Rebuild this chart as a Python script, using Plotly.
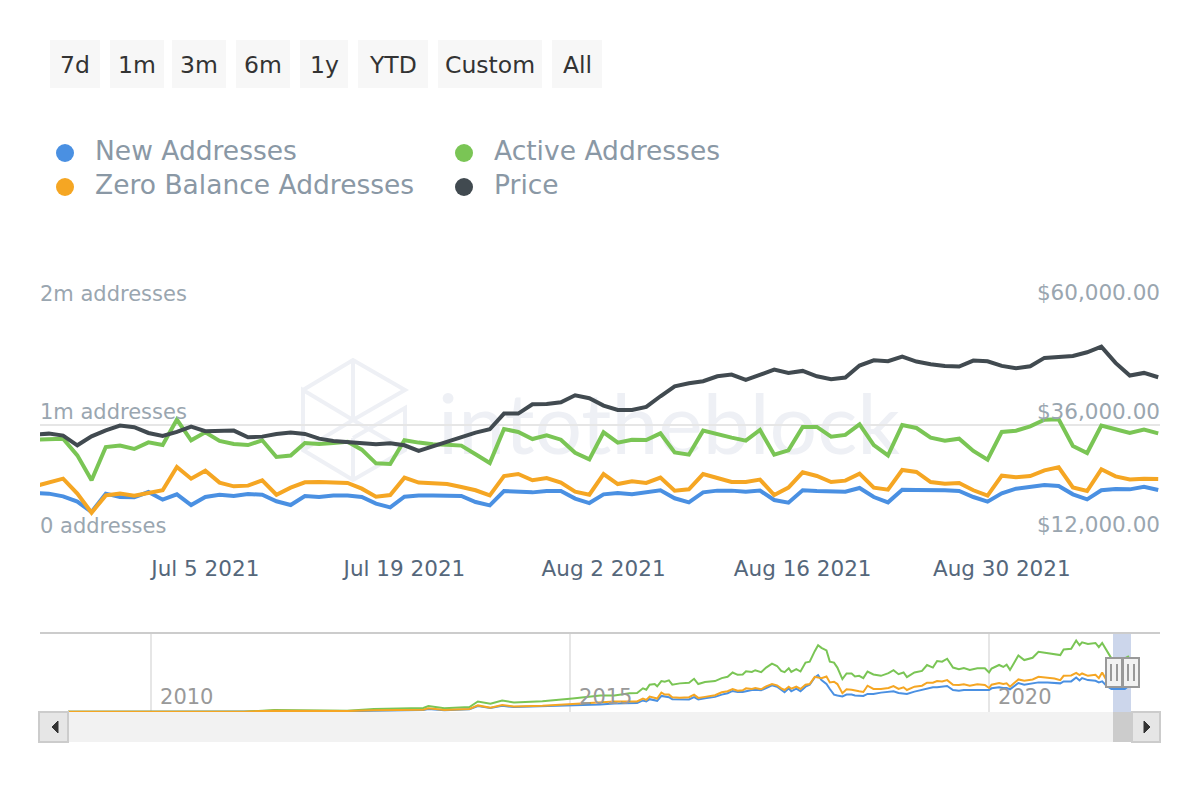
import pandas as pd
import plotly.graph_objects as go

# daily values, zoomed window (thousands of addresses / USD)
dates = pd.date_range("2021-06-23", "2021-09-10").strftime("%Y-%m-%d").tolist()
new_addresses = [
    397, 391, 368, 322, 233, 391, 362, 359, 405, 339, 385, 293, 362, 382, 371, 388, 382, 325, 293, 371,
    362, 374, 374, 362, 305, 273, 365, 374, 374,
    374, 371, 319, 290, 414, 405, 402, 414, 414, 348, 310, 385, 397, 385, 402, 420, 351, 316, 402, 417,
    417, 408, 417, 336, 313, 420, 414,
    408, 408, 440, 362, 316, 425, 422, 425, 420, 414, 362, 322, 394, 434, 448, 466, 457, 385, 342, 420,
    431, 428, 451, 422,
]
active_addresses = [
    856, 862, 865, 721, 506, 793, 805, 776, 833, 810, 1029, 851, 920, 845, 819, 810, 851, 707, 719, 828,
    819, 828, 839, 770, 652, 647, 851, 831, 816,
    813, 805, 730, 655, 948, 923, 862, 894, 856, 744, 687, 920, 831, 856, 854, 911, 747, 727, 934, 900,
    874, 848, 940, 727, 764, 966, 966,
    882, 897, 989, 810, 721, 983, 957, 874, 848, 865, 759, 684, 923, 934, 971, 1029, 1032, 802, 741, 977,
    946, 914, 943, 911,
]
zero_balance = [
    454, 483, 520, 391, 227, 376, 391, 374, 399, 420, 621, 520, 589, 486, 454, 460, 506, 382, 443, 489,
    491, 486, 483, 434, 365, 379, 529, 486, 477,
    474, 448, 420, 376, 543, 560, 506, 526, 486, 408, 382, 560, 474, 497, 483, 529, 417, 428, 560, 526,
    491, 491, 512, 379, 443, 575, 543,
    491, 503, 563, 443, 425, 595, 578, 491, 477, 483, 420, 374, 546, 532, 543, 592, 618, 445, 414, 601,
    540, 514, 520, 517,
]
price = [
    33600, 33800, 33390, 31390, 33250, 34490, 35460, 35120, 33940, 33320, 34150, 35250, 34290, 34360, 34430,
    33050, 33180, 33740, 34010, 33740, 32770, 32290, 32080, 31670, 31600, 31800, 31390, 30220, 31180,
    32150, 32910, 34010, 34700, 37940, 37940, 39880, 39950, 40290, 41740, 41120, 39600, 38700, 38700, 39320,
    41530, 43600, 44220, 44640, 45670, 46020, 44910, 46090, 47050, 46360, 46780, 45670,
    45050, 45400, 47880, 48980, 48780, 49740, 48710, 48160, 47810, 47670, 48920, 48780, 47810, 47330, 47740,
    49470, 49610, 49880, 50640, 51810, 48430, 45810, 46360, 45470,
]

# navigator, whole history
nav_years = [
    2009.01, 2011.11, 2011.47, 2012.34, 2012.66, 2013.25, 2013.31, 2013.50, 2013.80, 2013.90, 2014.05, 2014.19,
    2014.33, 2014.67, 2015.03,
    2015.36, 2015.53, 2015.71, 2015.80, 2015.87, 2015.91, 2015.95, 2016.01, 2016.04, 2016.09, 2016.13, 2016.18,
    2016.22, 2016.31, 2016.42, 2016.48, 2016.53, 2016.61, 2016.73, 2016.81, 2016.88, 2016.94, 2017.00, 2017.06,
    2017.10, 2017.17, 2017.21, 2017.28, 2017.34, 2017.41, 2017.47, 2017.52, 2017.56, 2017.61, 2017.64, 2017.70,
    2017.75, 2017.81, 2017.86, 2017.92, 2017.96, 2018.00, 2018.06, 2018.10, 2018.15, 2018.19, 2018.25, 2018.30,
    2018.36, 2018.40, 2018.45, 2018.50, 2018.55, 2018.62, 2018.71, 2018.80, 2018.86, 2018.92, 2018.98, 2019.02,
    2019.11, 2019.20, 2019.26, 2019.33, 2019.38, 2019.44, 2019.50, 2019.57, 2019.64, 2019.70, 2019.77, 2019.86,
    2019.95, 2020.00, 2020.03, 2020.12, 2020.17, 2020.21, 2020.25, 2020.30, 2020.35, 2020.42, 2020.52, 2020.59,
    2020.70, 2020.78, 2020.85, 2020.89, 2020.98, 2021.04, 2021.08, 2021.11, 2021.18, 2021.27, 2021.31, 2021.35,
    2021.40, 2021.46, 2021.62, 2021.67,
]
nav_new = [
    5, 5, 16, 11, 21, 32, 48, 27, 43, 96, 64, 101, 80, 91, 112,
    123, 139, 149, 144, 187, 171, 208, 197, 181, 261, 251, 240, 208, 203, 203, 240, 203, 224, 245, 282, 304,
    341, 325, 325, 341, 357, 362, 352, 389, 432, 410, 357, 320, 384, 336, 378, 336, 410, 442, 560, 597, 517,
    453, 373, 282, 267, 251, 282, 282, 267, 261, 261, 293, 293, 314, 320, 336, 309, 304, 293, 330, 357, 378,
    400, 400, 416, 421, 357, 346, 357, 357, 362, 368, 357, 384, 400, 389, 389, 368, 416, 469, 442, 469, 480,
    480, 474, 464, 496, 496, 560, 512, 549, 517, 506, 480, 496, 426, 373, 373, 426,
]
nav_active = [
    5, 5, 32, 21, 48, 64, 96, 59, 80, 171, 133, 187, 155, 176, 219,
    267, 267, 304, 309, 384, 362, 442, 453, 416, 501, 490, 512, 442, 464, 474, 538, 453, 485, 501, 549, 570,
    640, 602, 608, 661, 650, 677, 645, 720, 784, 746, 666, 645, 709, 650, 693, 656, 800, 816, 986, 1082, 1039,
    997, 816, 800, 720, 533, 624, 624, 576, 586, 549, 656, 608, 586, 629, 677, 613, 640, 565, 640, 666, 762,
    720, 826, 816, 863, 720, 693, 714, 682, 709, 709, 640, 704, 762, 730, 768, 682, 800, 917, 842, 879, 975,
    954, 943, 922, 1013, 1023, 1157, 1082, 1130, 1103, 1119, 1050, 1119, 997, 869, 869, 906,
]
nav_zero = [
    5, 5, 21, 16, 27, 37, 59, 32, 48, 107, 69, 112, 91, 101, 128,
    160, 171, 171, 171, 219, 197, 251, 235, 219, 314, 282, 282, 240, 229, 240, 282, 229, 245, 272, 320, 336,
    373, 346, 352, 384, 373, 389, 368, 416, 453, 432, 384, 357, 410, 378, 410, 373, 442, 453, 570, 560, 549,
    576, 480, 490, 453, 304, 368, 362, 346, 336, 325, 426, 373, 373, 389, 421, 373, 400, 357, 410, 426, 474,
    474, 501, 496, 517, 442, 437, 448, 426, 448, 437, 389, 442, 469, 453, 464, 410, 469, 528, 506, 528, 570,
    554, 544, 517, 586, 592, 634, 597, 624, 586, 602, 549, 640, 517, 506, 442, 560,
]
assert len(nav_years) == len(nav_new) == len(nav_active) == len(nav_zero)
assert len(dates) == len(new_addresses) == len(active_addresses) == len(zero_balance) == len(price)

x_tick_dates = ["2021-07-05", "2021-07-19", "2021-08-02", "2021-08-16", "2021-08-30"]
x_tick_text = ["Jul 5 2021", "Jul 19 2021", "Aug 2 2021", "Aug 16 2021", "Aug 30 2021"]
left_ticks = [0, 980, 2000]
left_tick_text = ["0 addresses", "1m addresses", "2m addresses"]
right_ticks = [12000, 35520, 60000]
right_tick_text = ["$12,000.00", "$36,000.00", "$60,000.00"]
nav_ticks = [2010, 2015, 2020]

BLUE = "#4a90e2"
GREEN = "#7ac555"
ORANGE = "#f5a623"
DARK = "#414a50"
FONT = "DejaVu Sans"
MARK = "#eef0f5"


def px(x):
    return x / 1200


def py(y):
    return 1 - y / 800


def box(x0, y0, x1, y1, fill, line=None, layer="above", width=2):
    return dict(type="rect", xref="paper", yref="paper", x0=px(x0), x1=px(x1), y0=py(y0), y1=py(y1),
                fillcolor=fill, line=dict(color=line or fill, width=width if line else 0), layer=layer)


def poly(points, line=None, fill=None, layer="above", width=1):
    path = "M " + " L ".join(f"{px(a)},{py(b)}" for a, b in points)
    if fill:
        path += " Z"
    return dict(type="path", xref="paper", yref="paper", path=path, fillcolor=fill,
                line=dict(color=line or fill, width=width), layer=layer)


fig = go.Figure()

# main chart
for name, values, color in [
    ("New Addresses", new_addresses, BLUE),
    ("Active Addresses", active_addresses, GREEN),
    ("Zero Balance Addresses", zero_balance, ORANGE),
]:
    fig.add_trace(go.Scatter(x=dates, y=values, name=name, mode="lines", line=dict(color=color, width=4),
                             xaxis="x", yaxis="y"))
fig.add_trace(go.Scatter(x=dates, y=price, name="Price", mode="lines", line=dict(color=DARK, width=4),
                         xaxis="x", yaxis="y2"))

# navigator
for name, values, color in [
    ("New Addresses", nav_new, BLUE),
    ("Active Addresses", nav_active, GREEN),
    ("Zero Balance Addresses", nav_zero, ORANGE),
]:
    fig.add_trace(go.Scatter(x=nav_years, y=values, name=name, mode="lines", line=dict(color=color, width=2),
                             xaxis="x2", yaxis="y3", showlegend=False))

shapes = []
annotations = []

# range buttons
buttons = [("7d", 50, 100), ("1m", 110, 164), ("3m", 172, 226), ("6m", 236, 290), ("1y", 300, 348),
           ("YTD", 358, 428), ("Custom", 438, 542), ("All", 552, 602)]
for label, x0, x1 in buttons:
    shapes.append(dict(box(x0, 40, x1, 88, "#f7f7f7"), layer="below"))
    annotations.append(dict(text=label, x=px((x0 + x1) / 2), y=py(65), xref="paper", yref="paper", showarrow=False,
                            xanchor="center", yanchor="middle",
                            font=dict(family=FONT, size=23.5, color="#333333")))

# legend
legend_items = [("New Addresses", BLUE, 65, 93, 151), ("Zero Balance Addresses", ORANGE, 65, 93, 185),
                ("Active Addresses", GREEN, 464, 492, 151), ("Price", DARK, 464, 492, 185)]
for label, color, cx, tx, cy in legend_items:
    shapes.append(dict(type="circle", xref="paper", yref="paper", x0=px(cx - 9), x1=px(cx + 9),
                       y0=py(cy + 11), y1=py(cy - 7), fillcolor=color, line=dict(width=0)))
    annotations.append(dict(text=label, x=px(tx), y=py(cy), xref="paper", yref="paper", xanchor="left",
                            yanchor="middle", showarrow=False, font=dict(family=FONT, size=26.5, color="#8a98a5")))

# watermark
shapes.append(dict(type="rect", xref="paper", yref="paper", x0=px(429), x1=px(909), y0=py(475), y1=py(365),
                   line=dict(width=0), layer="below",
                   label=dict(text="intotheblock", textposition="middle center",
                              font=dict(family="Lato", size=84, color=MARK))))
for seg in [[(303, 390), (353, 360), (405, 390), (353, 420), (303, 390), (303, 450), (353, 480), (405, 450), (405, 408), (353, 438)],
            [(353, 360), (353, 420)], [(303, 450), (353, 420), (405, 450)], [(353, 438), (353, 480)]]:
    shapes.append(poly(seg, line=MARK, layer="below", width=4))

# navigator furniture
shapes.append(box(40, 632, 1160, 634, "#cccccc", layer="below"))
shapes.append(box(1113, 634, 1131, 712, "#ccd6eb", layer="below"))
shapes.append(box(40, 712, 1160, 742, "#f2f2f2"))
shapes.append(box(1113, 712, 1131, 742, "#cccccc"))
shapes.append(box(39, 712, 68, 742, "#e6e6e6", line="#cccccc"))
shapes.append(box(1132, 712, 1160, 742, "#e6e6e6", line="#cccccc"))
shapes.append(poly([(58, 721), (52, 727), (58, 733)], fill="#333333"))
shapes.append(poly([(1144, 721), (1150, 727), (1144, 733)], fill="#333333"))
for x0, x1 in [(1106, 1122), (1123, 1139)]:
    shapes.append(box(x0, 658, x1, 687, "#f2f2f2", line="#999999"))
    mid = (x0 + x1) / 2
    for dx in (-3, 3):
        shapes.append(poly([(mid + dx, 664), (mid + dx, 681)], line="#999999", width=2))

fig.update_layout(
    width=1200,
    height=800,
    margin=dict(l=0, r=0, t=0, b=0, autoexpand=False),
    paper_bgcolor="white",
    plot_bgcolor="rgba(0,0,0,0)",
    showlegend=False,
    hovermode=False,
    shapes=shapes,
    annotations=annotations,
    xaxis=dict(
        domain=[px(40), px(1160)], anchor="y", type="date",
        range=["2021-06-23 09:00", "2021-09-10 03:00"],
        tickmode="array", tickvals=x_tick_dates, ticktext=x_tick_text,
        ticks="outside", ticklen=10, tickcolor="rgba(0,0,0,0)", showgrid=False, showline=False, zeroline=False,
        tickfont=dict(family=FONT, size=21.5, color="#55677b"),
    ),
    yaxis=dict(
        domain=[py(539), py(307)], anchor="x", range=[0, 2000],
        tickmode="array", tickvals=left_ticks, ticktext=left_tick_text,
        ticklabelposition="inside top", ticklabeloverflow="allow", ticks="", ticklabelstandoff=-3, ticklabelshift=1,
        gridcolor="#e6e6e6", gridwidth=2, zeroline=False, showline=False,
        tickfont=dict(family=FONT, size=21, color="#9aa6b0"),
    ),
    yaxis2=dict(
        domain=[py(539), py(307)], anchor="x", overlaying="y", side="right", range=[12000, 60000],
        tickmode="array", tickvals=right_ticks, ticktext=right_tick_text,
        ticklabelposition="inside top", ticklabeloverflow="allow", ticks="", ticklabelstandoff=-3, ticklabelshift=1,
        showgrid=False, zeroline=False, showline=False,
        tickfont=dict(family=FONT, size=21.5, color="#9aa6b0"),
    ),
    xaxis2=dict(
        domain=[px(40), px(1160)], anchor="y3", type="linear", range=[2008.675, 2022.04],
        tickmode="array", tickvals=nav_ticks, ticklabelposition="inside right", ticklabeloverflow="allow",
        ticklabelshift=9, ticklabelstandoff=-2, ticks="", gridcolor="#e6e6e6", gridwidth=2, zeroline=False,
        showline=False, tickformat="d",
        tickfont=dict(family=FONT, size=21, color="#999999"),
    ),
    yaxis3=dict(domain=[py(712), py(634)], anchor="x2", range=[0, 1264], visible=False),
)

fig.write_html("out.html", config=dict(displayModeBar=False),
               post_script="document.body.style.margin='0';document.body.style.overflow='hidden';")
